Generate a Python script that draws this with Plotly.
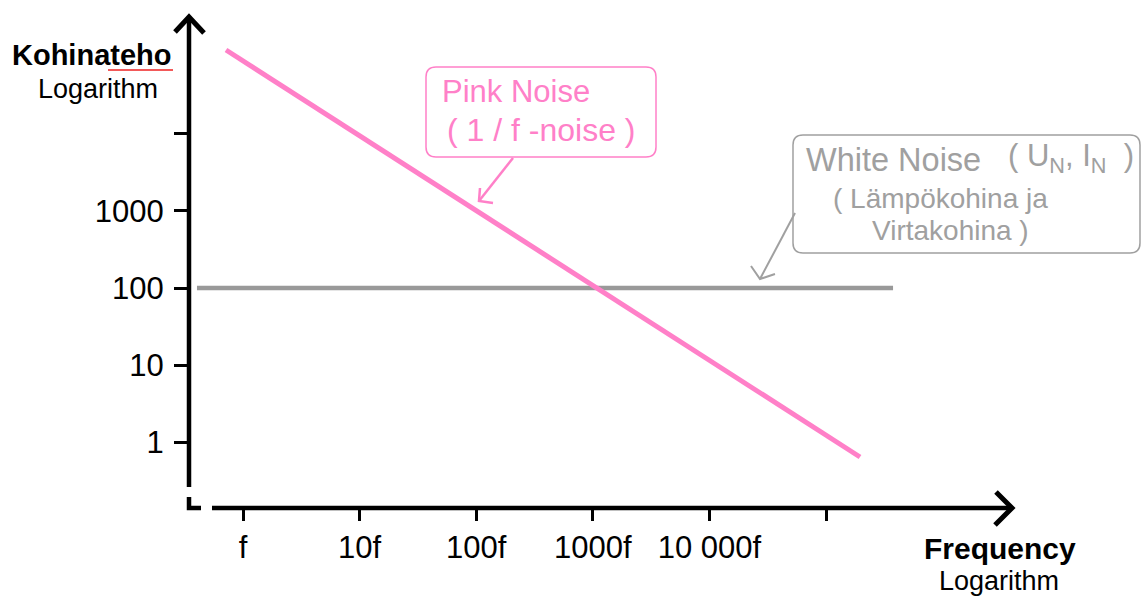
import plotly.graph_objects as go

# ---- data ----
pink_freq = [0.715, 195700]          # multiples of f
pink_power = [120500, 0.649]
white_freq = [0.403, 375800]
white_power = [100, 100]

x_tickvals = [1, 10, 100, 1000, 10000, 100000]
x_ticktext = ["f", "10f", "100f", "1000f", "10 000f", ""]
y_tickvals = [1, 10, 100, 1000, 10000]
y_ticktext = ["1", "10", "100", "1000", ""]

PINK = "#ff80c8"
GRAY_LINE = "#999999"
GRAY_TXT = "#a0a0a0"
FONT = "Liberation Sans, Arial, sans-serif"

W, H = 1144, 596
L, B = 189, 88
PW, PH = W - L, H - B


def fx(x):
    return (x - L) / PW


def fy(y):
    return (PH - y) / PH


def path(points, closed=False):
    s = "M " + " L ".join(f"{fx(x):.5f},{fy(y):.5f}" for x, y in points)
    return s + (" Z" if closed else "")


def rrect(x0, y0, x1, y1, r):
    s = (f"M {fx(x0 + r):.5f},{fy(y0):.5f} L {fx(x1 - r):.5f},{fy(y0):.5f} "
         f"Q {fx(x1):.5f},{fy(y0):.5f} {fx(x1):.5f},{fy(y0 + r):.5f} "
         f"L {fx(x1):.5f},{fy(y1 - r):.5f} "
         f"Q {fx(x1):.5f},{fy(y1):.5f} {fx(x1 - r):.5f},{fy(y1):.5f} "
         f"L {fx(x0 + r):.5f},{fy(y1):.5f} "
         f"Q {fx(x0):.5f},{fy(y1):.5f} {fx(x0):.5f},{fy(y1 - r):.5f} "
         f"L {fx(x0):.5f},{fy(y0 + r):.5f} "
         f"Q {fx(x0):.5f},{fy(y0):.5f} {fx(x0 + r):.5f},{fy(y0):.5f} Z")
    return s


fig = go.Figure()
fig.add_trace(go.Scatter(x=white_freq, y=white_power, mode="lines",
                         line=dict(color=GRAY_LINE, width=4.5), hoverinfo="skip"))
fig.add_trace(go.Scatter(x=pink_freq, y=pink_power, mode="lines",
                         line=dict(color=PINK, width=5), hoverinfo="skip"))

shapes = []


def sh(p, color, width):
    shapes.append(dict(type="path", path=p, xref="paper", yref="paper",
                       line=dict(color=color, width=width), layer="above"))


# axes
sh(path([(189, 487), (189, 18)]), "black", 4.5)
sh(path([(175, 32), (189, 17), (204, 33)]), "black", 5)
sh(path([(189, 497), (189, 508), (201, 508)]), "black", 4.5)
sh(path([(212, 508), (1011, 508)]), "black", 4.5)
sh(path([(996, 492), (1012, 508), (995, 525)]), "black", 5)
# spell-check underline
sh(path([(108, 70), (173, 70)]), "#ee2222", 1.5)
# callout boxes
sh(rrect(426, 67, 656, 157, 10), PINK, 1.5)
sh(path([(513, 158), (479, 201)]), PINK, 2.5)
sh(path([(480, 188), (479, 201), (493, 203)]), PINK, 2.5)
sh(rrect(793, 135, 1140, 253, 10), GRAY_TXT, 1.5)
sh(path([(795, 213), (760, 279)]), GRAY_TXT, 2)
sh(path([(751, 266), (760, 279), (775, 274)]), GRAY_TXT, 2)

annotations = []


def txt(x, y, text, size, color="black", bold=False, anchor="center"):
    t = f"<b>{text}</b>" if bold else text
    annotations.append(dict(x=fx(x), y=fy(y), xref="paper", yref="paper",
                            text=t, showarrow=False, xanchor=anchor,
                            yanchor="middle",
                            font=dict(family=FONT, size=size, color=color)))


txt(92, 55, "Kohinateho", 29, bold=True)
txt(98, 89, "Logarithm", 27)
txt(1000, 548, "Frequency", 30, bold=True)
txt(999, 581, "Logarithm", 27)
txt(440, 91, "Pink Noise", 31, PINK, anchor="left")
txt(445, 130, "( 1 / f -noise )", 32, PINK, anchor="left")
txt(804, 160, "White Noise", 32.5, GRAY_TXT, anchor="left")
txt(1006, 158, "(&nbsp;U<sub>N</sub>, I<sub>N</sub>&nbsp; )", 31, GRAY_TXT,
    anchor="left")
txt(831, 199, "( Lämpökohina ja", 28, GRAY_TXT, anchor="left")
txt(870, 231, "Virtakohina )", 28, GRAY_TXT, anchor="left")

xr0 = -(243 - L) / 116.6
xr1 = xr0 + PW / 116.6
yr1 = 2 + 288 / 77.25
yr0 = yr1 - PH / 77.25

fig.update_layout(
    width=W, height=H,
    margin=dict(l=L, r=0, t=0, b=B),
    paper_bgcolor="white", plot_bgcolor="white",
    showlegend=False,
    shapes=shapes, annotations=annotations,
    xaxis=dict(type="log", range=[xr0, xr1], showgrid=False, zeroline=False,
               showline=False, tickvals=x_tickvals, ticktext=x_ticktext,
               ticks="outside", ticklen=12, tickwidth=3, tickcolor="black",
               tickfont=dict(family=FONT, size=31, color="black"),
               ticklabelstandoff=0),
    yaxis=dict(type="log", range=[yr0, yr1], showgrid=False, zeroline=False,
               showline=False, tickvals=y_tickvals, ticktext=y_ticktext,
               ticks="outside", ticklen=14, tickwidth=3, tickcolor="black",
               tickfont=dict(family=FONT, size=31, color="black"),
               ticklabelstandoff=4),
)

fig.write_html("out.html",
               config={"displayModeBar": False},
               post_script="document.body.style.margin='0px';"
                           "document.body.style.overflow='hidden';")
